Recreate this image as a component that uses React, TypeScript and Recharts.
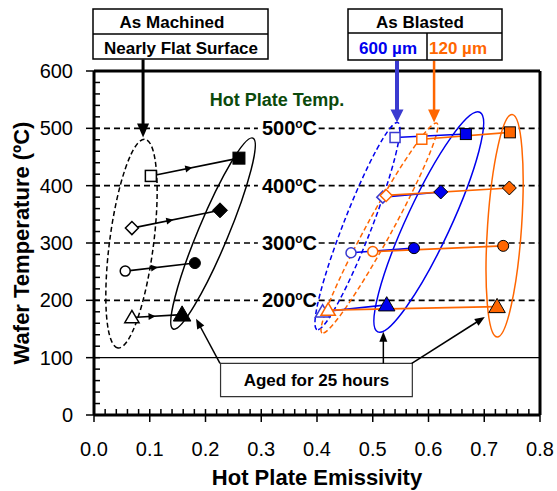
import React from "react";
import {
  ScatterChart,
  Scatter,
  XAxis,
  YAxis,
  ReferenceLine,
  ReferenceArea,
} from "recharts";

// hot plate set points, one marker shape per set point
const hotPlateTemps = [500, 400, 300, 200];
const markerKinds = ["square", "diamond", "circle", "triangle"];

const xMajorTicks = [0, 0.1, 0.2, 0.3, 0.4, 0.5, 0.6, 0.7, 0.8];
const yMajorTicks = [0, 100, 200, 300, 400, 500, 600];

// [emissivity, wafer temperature]
const machinedInitial = [[0.102, 417], [0.068, 326], [0.056, 251], [0.068, 170]];
const machinedAged = [[0.26, 448], [0.226, 357], [0.181, 265], [0.158, 175]];
const blast600Initial = [[0.54, 484], [0.518, 380], [0.461, 283], [0.41, 180]];
const blast600Aged = [[0.667, 490], [0.622, 389], [0.574, 291], [0.525, 192]];
const blast120Initial = [[0.588, 481], [0.524, 383], [0.5, 285], [0.42, 183]];
const blast120Aged = [[0.746, 493], [0.745, 396], [0.734, 295], [0.723, 189]];

const BLUE = "#0000ee";
const BLUE_OPEN = "#3a3ad0";
const ORANGE = "#ff6600";
const FONT = "'Liberation Sans', Arial, Helvetica, sans-serif";

const minorSteps = (majors: number[], n: number) => {
  const out: number[] = [];
  for (let i = 0; i < majors.length - 1; i++) {
    const step = (majors[i + 1] - majors[i]) / n;
    for (let k = 0; k < n; k++) out.push(Math.round((majors[i] + k * step) * 1000) / 1000);
  }
  out.push(majors[majors.length - 1]);
  return out;
};
const xTicks = minorSteps(xMajorTicks, 5);
const yTicks = minorSteps(yMajorTicks, 5);
const isMajor = (list: number[], v: number) => list.some((t) => Math.abs(t - v) < 1e-6);

const toPoints = (rows: number[][]) =>
  rows.map(([x, y], i) => ({ x, y, kind: markerKinds[i] }));

function XTick(props: any) {
  const { x, y, payload } = props;
  const major = isMajor(xMajorTicks, payload.value);
  return (
    <g>
      <line x1={x} x2={x} y1={y - 6} y2={major ? y + 7 : y} stroke="#000" strokeWidth={1.5} />
      {major && (
        <text x={x} y={y + 41} textAnchor="middle" fontSize={20} fontFamily={FONT} fill="#000">
          {payload.value.toFixed(1)}
        </text>
      )}
    </g>
  );
}

function YTick(props: any) {
  const { x, y, payload } = props;
  const major = isMajor(yMajorTicks, payload.value);
  return (
    <g>
      <line x1={major ? x - 8 : x} x2={x + 6} y1={y} y2={y} stroke="#000" strokeWidth={1.5} />
      {major && (
        <text x={x - 21} y={y + 7} textAnchor="end" fontSize={20} fontFamily={FONT} fill="#000">
          {payload.value}
        </text>
      )}
    </g>
  );
}

type MarkerStyle = { fill: string; stroke: string; sw: number; sizes: number[] };

const markerShape = (st: MarkerStyle) => (p: any) => {
  const { cx, cy } = p;
  const kind = p.payload?.kind ?? p.kind;
  const s = st.sizes[markerKinds.indexOf(kind)];
  const common = { fill: st.fill, stroke: st.stroke, strokeWidth: st.sw };
  if (kind === "square") return <rect x={cx - s / 2} y={cy - s / 2} width={s} height={s} {...common} />;
  if (kind === "circle") return <circle cx={cx} cy={cy} r={s / 2} {...common} />;
  if (kind === "diamond") {
    const h = s / 2;
    return <polygon points={`${cx},${cy - h} ${cx + h},${cy} ${cx},${cy + h} ${cx - h},${cy}`} {...common} />;
  }
  return (
    <polygon
      points={`${cx},${cy - s * 0.55} ${cx + s * 0.55},${cy + s * 0.4} ${cx - s * 0.55},${cy + s * 0.4}`}
      {...common}
    />
  );
};

// draws an ellipse whose long axis is the segment
const ellipseShape = (ry: number) => (p: any) => {
  const cx = (p.x1 + p.x2) / 2;
  const cy = (p.y1 + p.y2) / 2;
  const rx = Math.hypot(p.x2 - p.x1, p.y2 - p.y1) / 2;
  const ang = (Math.atan2(p.y2 - p.y1, p.x2 - p.x1) * 180) / Math.PI;
  return (
    <ellipse
      cx={cx}
      cy={cy}
      rx={rx}
      ry={ry}
      transform={`rotate(${ang} ${cx} ${cy})`}
      fill="none"
      stroke={p.stroke}
      strokeWidth={p.strokeWidth}
      strokeDasharray={p.strokeDasharray}
    />
  );
};

const head = (tx: number, ty: number, ux: number, uy: number, len: number, half: number, fill: string) => {
  const bx = tx - ux * len;
  const by = ty - uy * len;
  return (
    <polygon
      points={`${tx},${ty} ${bx - uy * half},${by + ux * half} ${bx + uy * half},${by - ux * half}`}
      fill={fill}
    />
  );
};

const arrowShape = (len: number, half: number) => (p: any) => {
  const dx = p.x2 - p.x1;
  const dy = p.y2 - p.y1;
  const d = Math.hypot(dx, dy) || 1;
  const ux = dx / d;
  const uy = dy / d;
  return (
    <g>
      <line x1={p.x1} y1={p.y1} x2={p.x2 - ux * len * 0.8} y2={p.y2 - uy * len * 0.8} stroke={p.stroke} strokeWidth={p.strokeWidth} />
      {head(p.x2, p.y2, ux, uy, len, half, p.stroke)}
    </g>
  );
};

// connector with a small arrowhead part way along
const connectorShape = (mid: boolean) => (p: any) => {
  const dx = p.x2 - p.x1;
  const dy = p.y2 - p.y1;
  const d = Math.hypot(dx, dy) || 1;
  const ux = dx / d;
  const uy = dy / d;
  return (
    <g>
      <line x1={p.x1} y1={p.y1} x2={p.x2} y2={p.y2} stroke={p.stroke} strokeWidth={p.strokeWidth} />
      {mid && head(p.x1 + dx * 0.47, p.y1 + dy * 0.47, ux, uy, 7, 3.5, p.stroke)}
    </g>
  );
};

const tempLineShape = (temp: number) => (p: any) => (
  <g>
    <line x1={p.x1} y1={p.y1} x2={p.x2} y2={p.y2} stroke="#000" strokeWidth={1.6} strokeDasharray="6 4" />
    <text x={p.x2 + 4} y={p.y2 + 7} fontSize={20} fontWeight="bold" fontFamily={FONT} fill="#000">
      {temp}
      <tspan fontSize={12} dy={-7}>o</tspan>
      <tspan dy={7}>C</tspan>
    </text>
  </g>
);

// group outlines: long axis end points, half width in px
const outlines = [
  { a: [0.0915, 481], b: [0.043, 117], ry: 22, color: "#000", dash: "5 3" },
  { a: [0.285, 483], b: [0.142, 150], ry: 15, color: "#000", dash: undefined },
  { a: [0.545, 510], b: [0.4, 149], ry: 14, color: BLUE, dash: "5 3" },
  { a: [0.615, 509], b: [0.409, 143], ry: 12.5, color: ORANGE, dash: "5 3" },
  { a: [0.692, 528], b: [0.509, 145], ry: 22, color: BLUE, dash: undefined },
  { a: [0.75, 524], b: [0.723, 136], ry: 17, color: ORANGE, dash: undefined },
];

const pairs = [
  { from: machinedInitial, to: machinedAged, color: "#000", mid: true },
  { from: blast600Initial, to: blast600Aged, color: BLUE, mid: false },
  { from: blast120Initial, to: blast120Aged, color: ORANGE, mid: false },
];

export default function App() {
  return (
    <div style={{ position: "absolute", left: 0, top: 0, width: 557, height: 491, background: "#fff", fontFamily: FONT }}>
      <ScatterChart width={557} height={491} margin={{ top: 71, right: 17, bottom: 0, left: 0 }}>
        <XAxis
          type="number"
          dataKey="x"
          domain={[0, 0.8]}
          ticks={xTicks}
          interval={0}
          tickLine={false}
          tickSize={0}
          tickMargin={0}
          tick={(p: any) => <XTick {...p} />}
          axisLine={{ stroke: "#000", strokeWidth: 3 }}
          height={76}
          allowDataOverflow
          label={{
            value: "Hot Plate Emissivity",
            position: "insideBottom",
            offset: 6,
            style: { fontSize: 22, fontWeight: "bold", fill: "#000", fontFamily: FONT },
          }}
        />
        <YAxis
          type="number"
          dataKey="y"
          domain={[0, 600]}
          ticks={yTicks}
          interval={0}
          tickLine={false}
          tickSize={0}
          tickMargin={0}
          tick={(p: any) => <YTick {...p} />}
          axisLine={{ stroke: "#000", strokeWidth: 3 }}
          width={94}
          allowDataOverflow
          label={{
            value: "Wafer Temperature (ºC)",
            position: "insideLeft",
            angle: -90,
            offset: 21,
            style: { fontSize: 22, fontWeight: "bold", fill: "#000", fontFamily: FONT, textAnchor: "middle" },
          }}
        />

        {/* frame top and right */}
        <ReferenceLine y={600} stroke="#000" strokeWidth={3} />
        <ReferenceLine x={0.8} stroke="#000" strokeWidth={3} />
        <ReferenceLine y={100} stroke="#000" strokeWidth={1.2} />

        {hotPlateTemps.map((t) => (
          <ReferenceLine
            key={`l${t}`}
            segment={[{ x: 0, y: t }, { x: 0.294, y: t }]}
            shape={tempLineShape(t)}
            ifOverflow="visible"
          />
        ))}
        {hotPlateTemps.map((t) => (
          <ReferenceLine
            key={`r${t}`}
            segment={[{ x: 0.403, y: t }, { x: 0.8, y: t }]}
            stroke="#000"
            strokeWidth={1.6}
            strokeDasharray="6 4"
          />
        ))}

        {outlines.map((o, i) => (
          <ReferenceLine
            key={`o${i}`}
            segment={[{ x: o.a[0], y: o.a[1] }, { x: o.b[0], y: o.b[1] }]}
            stroke={o.color}
            strokeWidth={1.5}
            strokeDasharray={o.dash}
            shape={ellipseShape(o.ry)}
            ifOverflow="visible"
          />
        ))}

        {pairs.map((g, gi) =>
          g.from.map((pt, i) => (
            <ReferenceLine
              key={`c${gi}-${i}`}
              segment={[{ x: pt[0], y: pt[1] }, { x: g.to[i][0], y: g.to[i][1] }]}
              stroke={g.color}
              strokeWidth={1.6}
              shape={connectorShape(g.mid)}
            />
          ))
        )}

        {/* arrows from the labels */}
        <ReferenceLine segment={[{ x: 0.088, y: 620 }, { x: 0.088, y: 484 }]} stroke="#000" strokeWidth={3} shape={arrowShape(14, 6)} ifOverflow="visible" />
        <ReferenceLine segment={[{ x: 0.5435, y: 618 }, { x: 0.5435, y: 510 }]} stroke="#3a3ad0" strokeWidth={4} shape={arrowShape(13, 6.5)} ifOverflow="visible" />
        <ReferenceLine segment={[{ x: 0.61, y: 618 }, { x: 0.61, y: 510 }]} stroke={ORANGE} strokeWidth={2.5} shape={arrowShape(13, 6)} ifOverflow="visible" />
        <ReferenceLine segment={[{ x: 0.226, y: 90 }, { x: 0.183, y: 168 }]} stroke="#000" strokeWidth={1.5} shape={arrowShape(10, 4)} />
        <ReferenceLine segment={[{ x: 0.519, y: 90 }, { x: 0.519, y: 145 }]} stroke="#000" strokeWidth={1.5} shape={arrowShape(10, 4)} />
        <ReferenceLine segment={[{ x: 0.57, y: 90 }, { x: 0.701, y: 171 }]} stroke="#000" strokeWidth={1.5} shape={arrowShape(10, 4)} />

        <ReferenceArea
          x1={0.227}
          x2={0.571}
          y1={32}
          y2={90}
          fill="#fff"
          fillOpacity={1}
          stroke="#333"
          strokeWidth={1.2}
          label={{ value: "Aged for 25 hours", position: "center", fontSize: 17, fontWeight: "bold", fill: "#000", fontFamily: FONT }}
        />

        <Scatter data={toPoints(machinedInitial)} isAnimationActive={false}
          shape={markerShape({ fill: "#fff", stroke: "#000", sw: 1.5, sizes: [11, 13, 10, 13] })} />
        <Scatter data={toPoints(machinedAged)} isAnimationActive={false}
          shape={markerShape({ fill: "#000", stroke: "#000", sw: 1, sizes: [12, 15, 11, 16] })} />
        <Scatter data={toPoints(blast600Initial)} isAnimationActive={false}
          shape={markerShape({ fill: "#fff", stroke: BLUE_OPEN, sw: 1.5, sizes: [10, 12, 10, 13] })} />
        <Scatter data={toPoints(blast120Initial)} isAnimationActive={false}
          shape={markerShape({ fill: "#fff", stroke: ORANGE, sw: 1.5, sizes: [10, 12, 10, 13] })} />
        <Scatter data={toPoints(blast600Aged)} isAnimationActive={false}
          shape={markerShape({ fill: BLUE, stroke: "#000", sw: 1, sizes: [11, 14, 11, 15] })} />
        <Scatter data={toPoints(blast120Aged)} isAnimationActive={false}
          shape={markerShape({ fill: ORANGE, stroke: "#000", sw: 1, sizes: [11, 14, 11, 15] })} />
      </ScatterChart>

      {/* label boxes above the plot */}
      <svg width={557} height={491} style={{ position: "absolute", left: 0, top: 0, pointerEvents: "none" }}>
        <g fontFamily={FONT} fontWeight="bold" fontSize={17} textAnchor="middle">
          <rect x={93} y={9} width={175} height={50} fill="#fff" stroke="#000" strokeWidth={1.5} />
          <line x1={93} x2={268} y1={34} y2={34} stroke="#000" strokeWidth={1.5} />
          <text x={172} y={28}>As Machined</text>
          <text x={181} y={54}>Nearly Flat Surface</text>

          <rect x={348} y={9} width={154} height={51} fill="#fff" stroke="#000" strokeWidth={1.5} />
          <line x1={348} x2={502} y1={33} y2={33} stroke="#000" strokeWidth={1.5} />
          <line x1={427} x2={427} y1={33} y2={60} stroke="#000" strokeWidth={1.5} />
          <text x={420} y={28}>As Blasted</text>
          <text x={388} y={54} fill={BLUE}>600 µm</text>
          <text x={458} y={54} fill={ORANGE}>120 µm</text>

          <text x={277} y={106} fontSize={18} fill="#0b4a0b">Hot Plate Temp.</text>
        </g>
      </svg>
    </div>
  );
}
